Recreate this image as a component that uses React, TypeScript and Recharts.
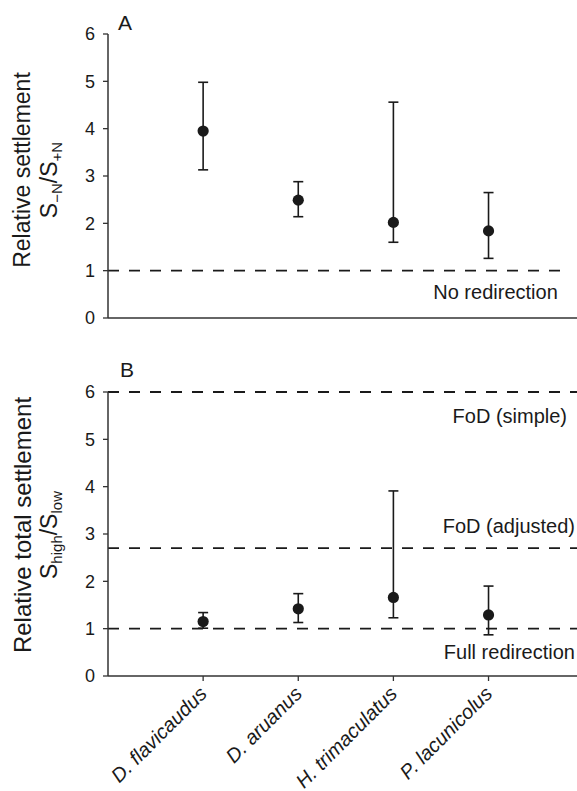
import React from 'react';
import { ScatterChart, Scatter, XAxis, YAxis, ErrorBar, ReferenceLine } from 'recharts';

const FONT = "'Liberation Sans', Arial, Helvetica, sans-serif";
const INK = '#1a1a1a';

const species = ['D. flavicaudus', 'D. aruanus', 'H. trimaculatus', 'P. lacunicolus'];
const speciesPos = [1, 2, 3, 4];
const yTicks = [0, 1, 2, 3, 4, 5, 6];
const xTicks = [1, 2, 3, 4];

// Panel A: relative settlement S-N / S+N
const settleMean = [3.95, 2.49, 2.02, 1.84];
const settleLow = [3.13, 2.14, 1.6, 1.26];
const settleHigh = [4.98, 2.88, 4.56, 2.65];

// Panel B: relative total settlement S_high / S_low
const totalMean = [1.15, 1.42, 1.66, 1.29];
const totalLow = [1.01, 1.13, 1.23, 0.87];
const totalHigh = [1.34, 1.74, 3.91, 1.9];

const refLinesA = [{ y: 1, xEnd: 4.77, text: 'No redirection', dx: 4, dy: 28 }];
const refLinesB = [
  { y: 6, xEnd: 4.93, text: 'FoD (simple)', dx: 10, dy: 31 },
  { y: 2.7, xEnd: 4.93, text: 'FoD (adjusted)', dx: 2, dy: -15 },
  { y: 1, xEnd: 4.93, text: 'Full redirection', dx: 2, dy: 30 },
];

const X_DOMAIN: [number, number] = [0, 4.93];

const build = (mean: number[], low: number[], high: number[]) =>
  species.map((name, i) => ({
    name,
    x: speciesPos[i],
    y: mean[i],
    err: [mean[i] - low[i], high[i] - mean[i]],
  }));

const dataA = build(settleMean, settleLow, settleHigh);
const dataB = build(totalMean, totalLow, totalHigh);

const Dot = (p: any) => <circle cx={p.cx} cy={p.cy} r={5.6} fill={INK} />;

const AnnoLabel = (props: any) => {
  const { viewBox, text, dx, dy } = props;
  if (!viewBox) return null;
  const xr = viewBox.x + viewBox.width - dx;
  return (
    <text x={xr} y={viewBox.y + dy} textAnchor="end" fontFamily={FONT} fontSize={20} fill={INK}>
      {text}
    </text>
  );
};

const SpeciesTick = (props: any) => {
  const { x, y, payload } = props;
  const idx = speciesPos.indexOf(payload.value);
  return (
    <g transform={`translate(${x + 5},${y + 12})`}>
      <text transform="rotate(-45)" textAnchor="end" fontFamily={FONT} fontStyle="italic" fontSize={20} fill={INK}>
        {species[idx]}
      </text>
    </g>
  );
};

const TitleA = () => (
  <g>
    <text transform="rotate(-90, 30, 170)" x={30} y={170} textAnchor="middle" fontFamily={FONT} fontSize={23} fill={INK}>
      Relative settlement
    </text>
    <text transform="rotate(-90, 57, 180)" x={57} y={180} textAnchor="middle" fontFamily={FONT} fontSize={23} fill={INK}>
      S<tspan fontSize={15} dy={5}>−N</tspan>
      <tspan dy={-5}>/S</tspan>
      <tspan fontSize={15} dy={5}>+N</tspan>
    </text>
  </g>
);

const TitleB = () => (
  <g>
    <text transform="rotate(-90, 31, 185)" x={31} y={185} textAnchor="middle" fontFamily={FONT} fontSize={24} fill={INK}>
      Relative total settlement
    </text>
    <text transform="rotate(-90, 57, 195)" x={57} y={195} textAnchor="middle" fontFamily={FONT} fontSize={23} fill={INK}>
      S<tspan fontSize={15} dy={5}>high</tspan>
      <tspan dy={-5}>/S</tspan>
      <tspan fontSize={15} dy={5}>low</tspan>
    </text>
  </g>
);

const axisLine = { stroke: '#333', strokeWidth: 1.5 };
const tickLine = { stroke: '#333', strokeWidth: 1.3 };
const tickStyle = { fontFamily: FONT, fontSize: 18, fill: INK };

export default function App() {
  return (
    <div style={{ position: 'absolute', left: 0, top: 0, width: 577, height: 791, background: '#fff' }}>
      <ScatterChart width={577} height={340} margin={{ top: 34, right: 0, bottom: 0, left: 48 }}>
        <XAxis
          type="number"
          dataKey="x"
          domain={X_DOMAIN}
          ticks={xTicks}
          tick={false}
          tickSize={5}
          height={22}
          axisLine={axisLine}
          tickLine={tickLine}
          allowDataOverflow
        />
        <YAxis
          type="number"
          dataKey="y"
          domain={[0, 6]}
          ticks={yTicks}
          width={60}
          tickSize={5}
          tickMargin={8}
          tick={tickStyle}
          axisLine={axisLine}
          tickLine={tickLine}
          label={<TitleA />}
        />
        {refLinesA.map((r) => (
          <ReferenceLine
            key={r.text}
            segment={[{ x: 0, y: r.y }, { x: r.xEnd, y: r.y }]}
            stroke={INK}
            strokeWidth={1.8}
            strokeDasharray="11 10"
            label={<AnnoLabel text={r.text} dx={r.dx} dy={r.dy} />}
          />
        ))}
        <Scatter data={dataA} isAnimationActive={false} shape={Dot}>
          <ErrorBar dataKey="err" direction="y" width={5} stroke={INK} strokeWidth={1.6} isAnimationActive={false} />
        </Scatter>
        <text x={118} y={30} fontFamily={FONT} fontSize={21} fill={INK}>A</text>
      </ScatterChart>
      <ScatterChart width={577} height={451} margin={{ top: 52, right: 0, bottom: 0, left: 48 }}>
        <XAxis
          type="number"
          dataKey="x"
          domain={X_DOMAIN}
          ticks={xTicks}
          tick={<SpeciesTick />}
          tickSize={5}
          height={115}
          axisLine={axisLine}
          tickLine={tickLine}
          interval={0}
          allowDataOverflow
        />
        <YAxis
          type="number"
          dataKey="y"
          domain={[0, 6]}
          ticks={yTicks}
          width={60}
          tickSize={5}
          tickMargin={8}
          tick={tickStyle}
          axisLine={axisLine}
          tickLine={tickLine}
          label={<TitleB />}
        />
        {refLinesB.map((r) => (
          <ReferenceLine
            key={r.text}
            segment={[{ x: 0, y: r.y }, { x: r.xEnd, y: r.y }]}
            stroke={INK}
            strokeWidth={1.8}
            strokeDasharray="11 10"
            label={<AnnoLabel text={r.text} dx={r.dx} dy={r.dy} />}
          />
        ))}
        <Scatter data={dataB} isAnimationActive={false} shape={Dot}>
          <ErrorBar dataKey="err" direction="y" width={5} stroke={INK} strokeWidth={1.6} isAnimationActive={false} />
        </Scatter>
        <text x={120} y={37} fontFamily={FONT} fontSize={21} fill={INK}>B</text>
      </ScatterChart>
    </div>
  );
}
